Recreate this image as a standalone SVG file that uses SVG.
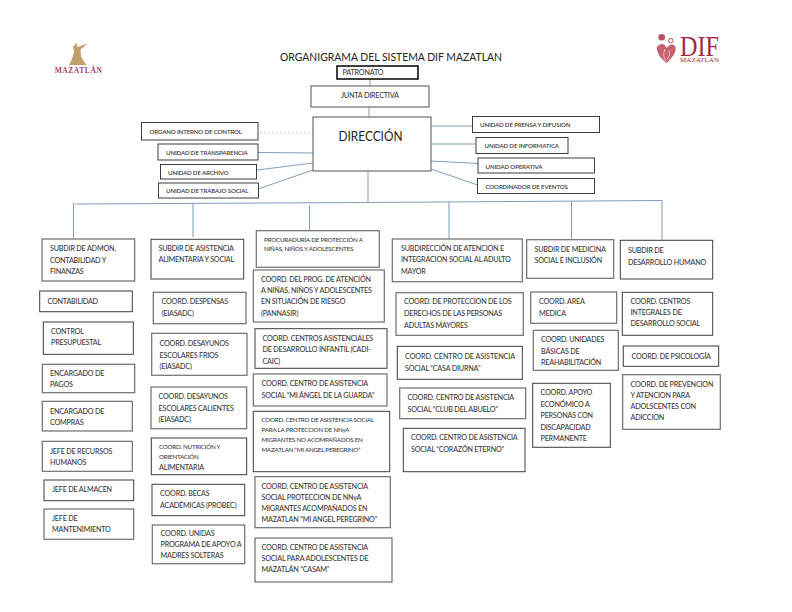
<svg xmlns="http://www.w3.org/2000/svg" width="792" height="612" viewBox="0 0 792 612">
<style>
text{font-family:Lato,"Liberation Sans",sans-serif;font-size:7.2px;letter-spacing:-.2px;fill:#3a3a3a;font-weight:500}
.s{font-size:6.2px}.u{font-size:6.1px;font-weight:600;letter-spacing:-.13px}
.b{fill:#fff;stroke:#3c3c3c;stroke-width:1}
.g{fill:#fff;stroke:#6e6e6e;stroke-width:1.2}
#connectors path{fill:none;stroke:#7f9dbd;stroke-width:1}
</style>
<rect width="792" height="612" fill="#fff"/>
<g id="logo-mazatlan">
<path d="M76 42l1.500 5 10-3.500-7 6 .5 7 3 5 2.500 3.500H69l3-6 2-7-1-6 2-1z" fill="#c2a06a"/>
<text x="78.500" y="73" text-anchor="middle" style="font-size:7.600px;fill:#a8455c;letter-spacing:.5px;font-family:'Liberation Serif',serif;font-weight:700">MAZATLÁN</text>
</g>
<g id="logo-dif">
<circle cx="661.700" cy="37.300" r="3.300" fill="#b5505f"/>
<circle cx="670.700" cy="40.700" r="2.200" fill="none" stroke="#b5505f" stroke-width="1"/>
<path d="M656.700 47q4-5 8-2l2 3 3-3q5-2 6 3 0 7-9 15-10-7-10-16z" fill="#c9606e"/>
<path d="M665 49q-3 7 1 12M669 50q2 5-2 10" fill="none" stroke="#f0d0d4" stroke-width=".8"/>
<text x="680" y="56" textLength="39" lengthAdjust="spacingAndGlyphs" style="font-size:29px;fill:#a32a44;font-family:'Liberation Serif',serif;letter-spacing:0;font-weight:400">DIF</text>
<text x="680" y="61.500" textLength="39" lengthAdjust="spacingAndGlyphs" style="font-size:5.500px;fill:#a32a44;font-family:'Liberation Serif',serif;letter-spacing:0;font-weight:400">MAZATLAN</text>
</g>
<text x="280" y="61" textLength="222" lengthAdjust="spacingAndGlyphs" style="font-size:11.800px;fill:#222;font-weight:400;letter-spacing:0">ORGANIGRAMA DEL SISTEMA DIF MAZATLAN</text>
<g id="connectors">
<path d="M370 79V86M369 107V117"/>
<path d="M260 133H313" style="stroke:#bbb;stroke-width:.8;stroke-dasharray:2 2"/>
<path d="M258 152.500L313 153M257 170L313 163M258 189L313 170"/>
<path d="M431 126H472.500M431 144H476M431 161L478 163.500M431 169L477.500 185"/>
<path d="M368 171V202"/>
<path d="M75 204L368 202.500L662 200.500"/>
<path d="M73.500 203V239M193 204V237M309.500 205V231M449 202V239M571.500 201V239.500M662 200.500V240"/>
</g>
<g id="patronato"><rect x="337" y="66" width="81" height="13" fill="#fff" stroke="#000" stroke-width="1.500"/><text x="342.500" y="74.500">PATRONATO</text></g>
<g id="junta"><rect class="g" x="311" y="86" width="118" height="21"/><text x="341" y="98">JUNTA DIRECTIVA</text></g>
<g id="direccion"><rect class="g" x="313" y="117" width="118" height="54"/><text x="338.500" y="141" textLength="64" lengthAdjust="spacingAndGlyphs" style="font-size:13.500px;fill:#222;font-weight:400;letter-spacing:0">DIRECCIÓN</text></g>
<g id="oic"><rect class="b" x="141.500" y="122.500" width="116.500" height="17.500"/><text class="u" x="149.500" y="134">ORGANO INTERNO DE CONTROL</text></g>
<g id="transparencia"><rect class="b" x="158" y="144" width="100" height="16"/><text class="u" x="166" y="155">UNIDAD DE TRANSPARENCIA</text></g>
<g id="archivo"><rect class="b" x="160.500" y="164.500" width="96" height="14.500"/><text class="u" x="168" y="175">UNIDAD DE ARCHIVO</text></g>
<g id="trabajo"><rect class="b" x="158.500" y="183" width="100" height="15"/><text class="u" x="166" y="193">UNIDAD DE TRABAJO SOCIAL</text></g>
<g id="prensa"><rect class="b" x="472.500" y="116.500" width="127" height="16"/><text class="u" x="480" y="127">UNIDAD DE PRENSA Y DIFUSION</text></g>
<g id="informatica"><rect class="b" x="476" y="137.500" width="92" height="16"/><text class="u" x="484.500" y="148">UNIDAD DE INFORMATICA</text></g>
<g id="operativa"><rect class="b" x="478" y="158" width="116.500" height="15"/><text class="u" x="485.500" y="169">UNIDAD OPERATIVA</text></g>
<g id="eventos"><rect class="b" x="477.500" y="178.500" width="117" height="15"/><text class="u" x="485.500" y="189">COORDINADOR DE EVENTOS</text></g>

<g id="n1"><rect class="g" x="42" y="239" width="92.700" height="42"/><text x="50" y="251">SUBDIR DE ADMON,</text><text x="50" y="262.500">CONTABILIDAD Y</text><text x="50" y="274">FINANZAS</text></g>
<g id="n2"><rect class="b" x="39.700" y="291" width="92.600" height="20.700"/><text x="47.500" y="303.500">CONTABILIDAD</text></g>
<g id="n3"><rect class="b" x="43.300" y="322" width="90" height="32.300"/><text x="51" y="334">CONTROL</text><text x="51" y="345">PRESUPUESTAL</text></g>
<g id="n4"><rect class="g" x="42.300" y="364.300" width="92.400" height="28.400"/><text x="50" y="376">ENCARGADO DE</text><text x="50" y="387">PAGOS</text></g>
<g id="n5"><rect class="g" x="42.300" y="401.300" width="90" height="29.700"/><text x="50" y="413.500">ENCARGADO DE</text><text x="50" y="425">COMPRAS</text></g>
<g id="n6"><rect class="g" x="42.300" y="441.300" width="90" height="30"/><text x="50" y="453.500">JEFE DE RECURSOS</text><text x="50" y="465">HUMANOS</text></g>
<g id="n7"><rect class="b" x="44" y="480" width="89.700" height="20.700"/><text x="52" y="492">JEFE DE ALMACEN</text></g>
<g id="n8"><rect class="g" x="44" y="509" width="89.700" height="30.300"/><text x="52" y="521">JEFE DE</text><text x="52" y="532">MANTENIMIENTO</text></g>

<g id="n9"><rect class="b" x="151" y="239.300" width="92.700" height="39.700"/><text x="158.500" y="251">SUBDIR DE ASISTENCIA</text><text x="158.500" y="262">ALIMENTARIA Y SOCIAL</text></g>
<g id="n10"><rect class="g" x="153.300" y="292.300" width="92.700" height="31.400"/><text x="161.500" y="304">COORD. DESPENSAS</text><text x="161.500" y="316">(EIASADC)</text></g>
<g id="n11"><rect class="g" x="151.700" y="333.300" width="95.300" height="42"/><text x="159.500" y="345.500">COORD. DESAYUNOS</text><text x="159.500" y="357.500">ESCOLARES FRIOS</text><text x="159.500" y="369">(EIASADC)</text></g>
<g id="n12"><rect class="g" x="151" y="387" width="95.700" height="41.700"/><text x="158.500" y="399">COORD. DESAYUNOS</text><text x="158.500" y="410.500">ESCOLARES CALIENTES</text><text x="158.500" y="422">(EIASADC)</text></g>
<g id="n13"><rect class="b" x="151.300" y="438" width="95.400" height="36.700"/><text class="s" x="159" y="449">COORD. NUTRICIÓN Y</text><text class="s" x="159" y="459">ORIENTACIÓN</text><text x="159" y="470">ALIMENTARIA</text></g>
<g id="n14"><rect class="b" x="152" y="484.300" width="92.700" height="31.400"/><text x="160" y="496">COORD. BECAS</text><text x="160" y="507.500">ACADÉMICAS (PROBEC)</text></g>
<g id="n15"><rect class="g" x="152.300" y="525" width="92.400" height="38.700"/><text x="160.500" y="536">COORD. UNIDAS</text><text x="160.500" y="547">PROGRAMA DE APOYO A</text><text x="160.500" y="558">MADRES SOLTERAS</text></g>

<g id="n16"><rect class="g" x="256.300" y="230.700" width="123" height="36.600"/><text class="s" x="264" y="242">PROCURADURÍA DE PROTECCIÓN A</text><text class="s" x="264" y="251">NIÑAS, NIÑOS Y ADOLESCENTES</text></g>
<g id="n17"><rect class="g" x="253.300" y="270" width="131" height="52"/><text x="261" y="282">COORD. DEL PROG. DE ATENCIÓN</text><text x="261" y="293">A NIÑAS, NIÑOS Y ADOLESCENTES</text><text x="261" y="304">EN SITUACIÓN DE RIESGO</text><text x="261" y="316">(PANNASIR)</text></g>
<g id="n18"><rect class="b" x="255" y="328.700" width="132" height="39.600"/><text x="262.500" y="341">COORD. CENTROS ASISTENCIALES</text><text x="262.500" y="352">DE DESARROLLO INFANTIL (CADI-</text><text x="262.500" y="364">CAIC)</text></g>
<g id="n19"><rect class="g" x="253.300" y="374" width="133.700" height="32"/><text x="261.500" y="386">COORD. CENTRO DE ASISTENCIA</text><text x="261.500" y="397.500">SOCIAL “MI ÁNGEL DE LA GUARDA”</text></g>
<g id="n20"><rect class="b" x="253.300" y="411.300" width="136.400" height="60.400"/><text class="s" x="261.500" y="422">COORD. CENTRO DE ASISTENCIA SOCIAL</text><text class="s" x="261.500" y="432">PARA LA PROTECCION DE NNyA</text><text class="s" x="261.500" y="442">MIGRANTES NO ACOMPAÑADOS EN</text><text class="s" x="261.500" y="452">MAZATLAN “MI ANGEL PEREGRINO”</text></g>
<g id="n21"><rect class="g" x="255" y="476.700" width="135.300" height="51"/><text x="261.500" y="489">COORD. CENTRO DE ASISTENCIA</text><text x="261.500" y="500">SOCIAL PROTECCION DE NNyA</text><text x="261.500" y="511">MIGRANTES ACOMPAÑADOS EN</text><text x="261.500" y="522">MAZATLAN “MI ANGEL PEREGRINO”</text></g>
<g id="n22"><rect class="g" x="255" y="538" width="137" height="44"/><text x="261.500" y="550">COORD. CENTRO DE ASISTENCIA</text><text x="261.500" y="561">SOCIAL PARA ADOLESCENTES DE</text><text x="261.500" y="572">MAZATLÁN “CASAM”</text></g>

<g id="n23"><rect class="g" x="392.300" y="239" width="130" height="42.700"/><text x="401" y="251">SUBDIRECCIÓN DE ATENCION E</text><text x="401" y="262">INTEGRACION SOCIAL AL ADULTO</text><text x="401" y="274">MAYOR</text></g>
<g id="n24"><rect class="g" x="396" y="292.700" width="127.300" height="42.600"/><text x="404" y="304">COORD. DE PROTECCION DE LOS</text><text x="404" y="316">DERECHOS DE LAS PERSONAS</text><text x="404" y="328">ADULTAS MAYORES</text></g>
<g id="n25"><rect class="b" x="397.300" y="346.300" width="125" height="33"/><text x="405" y="359" textLength="110">COORD. CENTRO DE ASISTENCIA</text><text x="405" y="370.500">SOCIAL “CASA DIURNA”</text></g>
<g id="n26"><rect class="g" x="399.700" y="388" width="126" height="30.700"/><text x="407.500" y="400">COORD. CENTRO DE ASISTENCIA</text><text x="407.500" y="411.500">SOCIAL “CLUB DEL ABUELO”</text></g>
<g id="n27"><rect class="b" x="403.300" y="428.300" width="121.700" height="43.400"/><text x="411" y="440">COORD. CENTRO DE ASISTENCIA</text><text x="411" y="451.500">SOCIAL “CORAZÓN ETERNO”</text></g>

<g id="n28"><rect class="g" x="526.700" y="239.700" width="87" height="38.600"/><text x="534.500" y="252">SUBDIR DE MEDICINA</text><text x="534.500" y="263">SOCIAL E INCLUSIÓN</text></g>
<g id="n29"><rect class="g" x="530.700" y="292" width="86" height="31.300"/><text x="539" y="304">COORD. AREA</text><text x="539" y="315.500">MEDICA</text></g>
<g id="n30"><rect class="g" x="533.300" y="330.300" width="85" height="40"/><text x="541" y="342">COORD. UNIDADES</text><text x="541" y="354">BÁSICAS DE</text><text x="541" y="365">REAHABILITACIÓN</text></g>
<g id="n31"><rect class="b" x="532.700" y="383.300" width="77.600" height="64"/><text x="540.500" y="395">COORD. APOYO</text><text x="540.500" y="406.500">ECONÓMICO A</text><text x="540.500" y="418">PERSONAS CON</text><text x="540.500" y="429.500">DISCAPACIDAD</text><text x="540.500" y="440.500">PERMANENTE</text></g>

<g id="n32"><rect class="b" x="620.300" y="240.300" width="92.400" height="38.700"/><text x="628" y="253">SUBDIR DE</text><text x="628" y="264.500">DESARROLLO HUMANO</text></g>
<g id="n33"><rect class="b" x="622.300" y="292.300" width="90.400" height="43"/><text x="630.500" y="304">COORD. CENTROS</text><text x="630.500" y="315">INTEGRALES DE</text><text x="630.500" y="326">DESARROLLO SOCIAL</text></g>
<g id="n34"><rect class="b" x="623.300" y="346" width="95.400" height="20.300"/><text x="631.500" y="358.500">COORD. DE PSICOLOGÍA</text></g>
<g id="n35"><rect class="g" x="622.700" y="374.700" width="97.600" height="54.600"/><text x="630.500" y="387">COORD. DE PREVENCION</text><text x="630.500" y="398">Y ATENCION PARA</text><text x="630.500" y="409">ADOLSCENTES CON</text><text x="630.500" y="420">ADICCION</text></g>
</svg>
